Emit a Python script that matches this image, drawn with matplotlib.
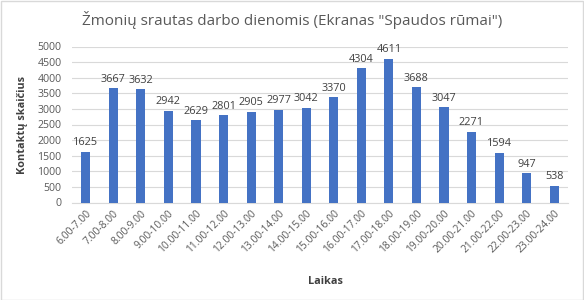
import matplotlib
matplotlib.use("Agg")
import matplotlib.pyplot as plt
from matplotlib.patches import Rectangle

categories = ["6.00-7.00", "7.00-8.00", "8.00-9.00", "9.00-10.00", "10.00-11.00",
              "11.00-12.00", "12.00-13.00", "13.00-14.00", "14.00-15.00", "15.00-16.00",
              "16.00-17.00", "17.00-18.00", "18.00-19.00", "19.00-20.00", "20.00-21.00",
              "21.00-22.00", "22.00-23.00", "23.00-24.00"]
values = [1625, 3667, 3632, 2942, 2629, 2801, 2905, 2977, 3042, 3370,
          4304, 4611, 3688, 3047, 2271, 1594, 947, 538]
yticks = [0, 500, 1000, 1500, 2000, 2500, 3000, 3500, 4000, 4500, 5000]

plt.rcParams['font.family'] = ['Open Sans', 'DejaVu Sans']
fig = plt.figure(figsize=(5.84, 3.00), dpi=100)
W, H = 584, 300
ax = fig.add_axes([72 / W, 1 - 202.5 / H, (568 - 72) / W, (202.5 - 46.5) / H])

x = list(range(len(categories)))
ax.bar(x, values, width=0.33, color="#4472C4", zorder=3)
for xi, v in zip(x, values):
    ax.text(xi, v + 110, str(v), ha="center", va="bottom", fontsize=7.8, color="#404040")

ax.set_xlim(-0.5, len(categories) - 0.5)
ax.set_ylim(0, 5000)
ax.set_yticks(yticks)
ax.set_yticklabels([str(t) for t in yticks], fontsize=7.6, color="#595959")
ax.set_xticks(x)
ax.set_xticklabels(categories, rotation=45, ha="right", rotation_mode="anchor",
                   fontsize=7.4, color="#595959")
ax.tick_params(axis="y", length=0, pad=7.5)
ax.tick_params(axis="x", length=0, pad=4)
ax.grid(axis="y", color="#d9d9d9", linewidth=0.8, zorder=0)
for s in ["top", "right", "left"]:
    ax.spines[s].set_visible(False)
ax.spines["bottom"].set_color("#d9d9d9")

fig.text(23 / W, 1 - 125 / H, "Kontaktų skaičius", fontsize=7.8, fontweight="bold",
         color="#404040", rotation=90, ha="center", va="center")
fig.text(325 / W, 1 - 282 / H, "Laikas", fontsize=7.8, fontweight="bold", color="#404040",
         ha="center", va="center")
fig.text(292 / W, 1 - 20 / H, 'Žmonių srautas darbo dienomis (Ekranas "Spaudos rūmai")',
         fontsize=11, color="#595959", ha="center", va="center")

fig.patches.append(Rectangle((0.5 / W, 0.5 / H), 1 - 1.5 / W, 1 - 1.5 / H, transform=fig.transFigure,
                             fill=False, edgecolor="#d9d9d9", linewidth=1))
fig.savefig("out.png", dpi=100)
